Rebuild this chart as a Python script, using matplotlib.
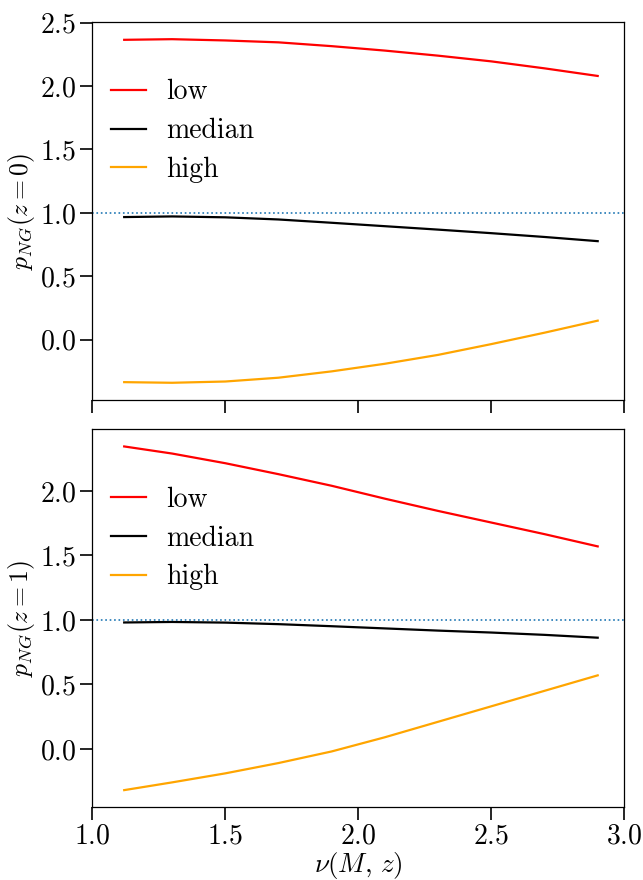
import numpy as np
import matplotlib
matplotlib.use("Agg")
import matplotlib.pyplot as plt

plt.rcParams['font.family'] = 'cmr10'
plt.rcParams['mathtext.fontset'] = 'cm'
plt.rcParams['axes.unicode_minus'] = False
plt.rcParams['axes.formatter.use_mathtext'] = True

# values
nu = [1.12, 1.3, 1.5, 1.7, 1.9, 2.1, 2.3, 2.5, 2.7, 2.9]

# z = 0
low_z0    = [2.365, 2.37, 2.36, 2.345, 2.315, 2.28, 2.24, 2.195, 2.14, 2.08]
median_z0 = [0.967, 0.972, 0.965, 0.948, 0.922, 0.895, 0.868, 0.84, 0.81, 0.777]
high_z0   = [-0.335, -0.34, -0.33, -0.30, -0.25, -0.19, -0.12, -0.035, 0.055, 0.15]

# z = 1
low_z1    = [2.345, 2.29, 2.215, 2.13, 2.04, 1.94, 1.845, 1.755, 1.665, 1.57]
median_z1 = [0.98, 0.984, 0.979, 0.967, 0.951, 0.934, 0.917, 0.902, 0.884, 0.862]
high_z1   = [-0.32, -0.26, -0.19, -0.11, -0.02, 0.09, 0.21, 0.33, 0.45, 0.57]

xticks = [1.0, 1.5, 2.0, 2.5, 3.0]

fig = plt.figure(figsize=(6.43, 8.8), dpi=100)
ax1 = fig.add_axes([0.1435, 0.5455, 0.8274, 0.4295])
ax2 = fig.add_axes([0.1435, 0.0826, 0.8274, 0.4296])

panels = [
    (ax1, low_z0, median_z0, high_z0, r'$p_{NG}(z=0)$'),
    (ax2, low_z1, median_z1, high_z1, r'$p_{NG}(z=1)$'),
]

for ax, low, med, high, ylab in panels:
    ax.plot(nu, low, color='red', lw=1.6, label='low')
    ax.plot(nu, med, color='black', lw=1.6, label='median')
    ax.plot(nu, high, color='orange', lw=1.6, label='high')
    ax.axhline(1.0, color='#1f77b4', ls=':', lw=1.2)
    ax.set_xlim(1.0, 3.0)
    ax.set_xticks(xticks)
    ax.set_ylabel(ylab, fontsize=18.5, labelpad=2)
    ax.tick_params(direction='out', length=9, width=1.2, labelsize=20, pad=2.5)
    for s in ax.spines.values():
        s.set_linewidth(0.9)
    ax.legend(loc='upper left', frameon=False, fontsize=20,
              handlelength=1.25, handletextpad=0.75, labelspacing=0.45,
              bbox_to_anchor=(-0.012, 0.915))

ax1.tick_params(labelbottom=False)
ax2.set_xlabel(r'$\nu(M,\,z)$', fontsize=19.5, labelpad=0)

fig.savefig('out.png', dpi=100)
